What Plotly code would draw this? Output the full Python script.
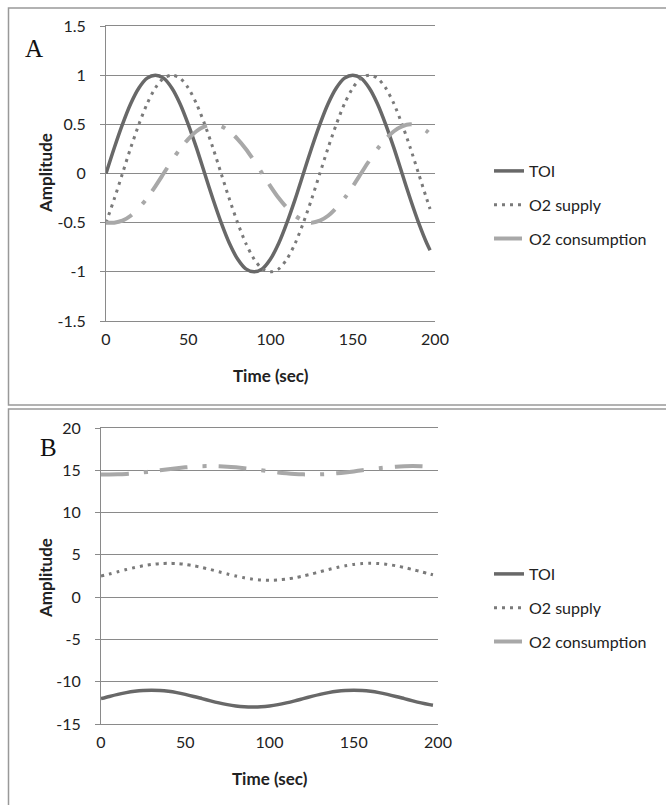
import plotly.graph_objects as go

# ---------------- data ----------------
time_s = [0, 5, 10, 15, 20, 25, 30, 35, 40, 45, 50, 55, 60, 65, 70, 75, 80, 85, 90, 95,
          100, 105, 110, 115, 120, 125, 130, 135, 140, 145, 150, 155, 160, 165, 170, 175,
          180, 185, 190, 195, 197]

toi_a = [0, 0.26, 0.5, 0.71, 0.87, 0.97, 1, 0.97, 0.87, 0.71, 0.5, 0.26, 0, -0.26, -0.5,
         -0.71, -0.87, -0.97, -1, -0.97, -0.87, -0.71, -0.5, -0.26, 0, 0.26, 0.5, 0.71,
         0.87, 0.97, 1, 0.97, 0.87, 0.71, 0.5, 0.26, 0, -0.26, -0.5, -0.71, -0.78]

supply_a = [-0.5, -0.26, 0, 0.26, 0.5, 0.71, 0.87, 0.97, 1, 0.97, 0.87, 0.71, 0.5, 0.26, 0,
            -0.26, -0.5, -0.71, -0.87, -0.97, -1, -0.97, -0.87, -0.71, -0.5, -0.26, 0, 0.26,
            0.5, 0.71, 0.87, 0.97, 1, 0.97, 0.87, 0.71, 0.5, 0.26, 0, -0.26, -0.36]

consumption_a = [-0.5, -0.5, -0.48, -0.43, -0.35, -0.25, -0.13, 0, 0.13, 0.25, 0.35, 0.43,
                 0.48, 0.5, 0.48, 0.43, 0.35, 0.25, 0.13, 0, -0.13, -0.25, -0.35, -0.43,
                 -0.48, -0.5, -0.48, -0.43, -0.35, -0.25, -0.13, 0, 0.13, 0.25, 0.35, 0.43,
                 0.48, 0.5, 0.48, 0.43, 0.4]

toi_b = [-12, -11.74, -11.5, -11.29, -11.13, -11.03, -11, -11.03, -11.13, -11.29, -11.5,
         -11.74, -12, -12.26, -12.5, -12.71, -12.87, -12.97, -13, -12.97, -12.87, -12.71,
         -12.5, -12.26, -12, -11.74, -11.5, -11.29, -11.13, -11.03, -11, -11.03, -11.13,
         -11.29, -11.5, -11.74, -12, -12.26, -12.5, -12.71, -12.78]

supply_b = [2.5, 2.74, 3, 3.26, 3.5, 3.71, 3.87, 3.97, 4, 3.97, 3.87, 3.71, 3.5, 3.26, 3,
            2.74, 2.5, 2.29, 2.13, 2.03, 2, 2.03, 2.13, 2.29, 2.5, 2.74, 3, 3.26, 3.5, 3.71,
            3.87, 3.97, 4, 3.97, 3.87, 3.71, 3.5, 3.26, 3, 2.74, 2.64]

consumption_b = [14.5, 14.5, 14.52, 14.57, 14.65, 14.75, 14.87, 15, 15.13, 15.25, 15.35,
                 15.43, 15.48, 15.5, 15.48, 15.43, 15.35, 15.25, 15.13, 15, 14.87, 14.75,
                 14.65, 14.57, 14.52, 14.5, 14.52, 14.57, 14.65, 14.75, 14.87, 15, 15.13,
                 15.25, 15.35, 15.43, 15.48, 15.5, 15.48, 15.43, 15.4]

series_names = ["TOI", "O2 supply", "O2 consumption"]
x_ticks = [0, 50, 100, 150, 200]
y_ticks_a = [-1.5, -1, -0.5, 0, 0.5, 1, 1.5]
y_ticktext_a = ["-1.5", "-1", "-0.5", "0", "0.5", "1", "1.5"]
y_ticks_b = [-15, -10, -5, 0, 5, 10, 15, 20]
y_ticktext_b = ["-15", "-10", "-5", "0", "5", "10", "15", "20"]
x_title = "Time (sec)"
y_title = "Amplitude"
panel_labels = ["A", "B"]

# ---------------- styling ----------------
W, H = 666, 805
GRID = "#8a8a8a"
TXT = "#222222"
FONT = "Lato"
C_TOI = "#686868"
C_SUP = "#7a7a7a"
C_CON = "#a8a8a8"


def fx(px):
    return px / W


def fy(py):
    return 1 - py / H


styles = [
    dict(color=C_TOI, width=3.5),
    dict(color=C_SUP, width=3, dash="3px,5px"),
    dict(color=C_CON, width=4, dash="28px,15px,4px,12px"),
]

fig = go.Figure()

panel_series = [
    ("x", "y", "legend", [toi_a, supply_a, consumption_a]),
    ("x2", "y2", "legend2", [toi_b, supply_b, consumption_b]),
]
for xa, ya, lg, ser in panel_series:
    for i, (name, vals) in enumerate(zip(series_names, ser)):
        fig.add_trace(go.Scatter(
            x=time_s, y=vals, name=name, mode="lines",
            line=dict(shape="spline", smoothing=0.8, **styles[i]),
            xaxis=xa, yaxis=ya, legend=lg, legendgroup=lg + str(i),
            showlegend=True,
        ))

# panel pixel geometry
A = dict(l=106, r=435, t=26, b=321)
B = dict(l=101, r=438, t=428, b=724)


def xaxis_cfg(g, anchor):
    return dict(domain=[fx(g["l"]), fx(g["r"])], range=[0, 200], anchor=anchor,
                tickvals=x_ticks, ticks="", showgrid=False, zeroline=False,
                showline=True, mirror=True, linecolor=GRID, linewidth=1,
                tickfont=dict(family=FONT, size=16, color=TXT),
                ticklabelstandoff=4, fixedrange=True, automargin=False)


def yaxis_cfg(g, anchor, rng, tv, tt):
    return dict(domain=[fy(g["b"]), fy(g["t"])], range=rng, anchor=anchor,
                tickvals=tv, ticktext=tt, showgrid=True, gridcolor=GRID, gridwidth=1,
                zeroline=False, showline=True, linecolor=GRID, linewidth=1,
                ticks="outside", ticklen=5, tickcolor=GRID,
                tickfont=dict(family=FONT, size=16, color=TXT),
                ticklabelstandoff=11, fixedrange=True, automargin=False)


def zero_pos(g, rng):
    d0, d1 = fy(g["b"]), fy(g["t"])
    return d0 + (0 - rng[0]) / (rng[1] - rng[0]) * (d1 - d0)


rng_a = [-1.5, 1.5]
rng_b = [-15, 20]

fig.update_layout(
    template="none",
    width=W, height=H,
    margin=dict(l=0, r=0, t=0, b=0, autoexpand=False),
    paper_bgcolor="white", plot_bgcolor="white",
    xaxis=xaxis_cfg(A, "y"),
    yaxis=yaxis_cfg(A, "x", rng_a, y_ticks_a, y_ticktext_a),
    xaxis2=xaxis_cfg(B, "y2"),
    yaxis2=yaxis_cfg(B, "x2", rng_b, y_ticks_b, y_ticktext_b),
    xaxis3=dict(overlaying="x", anchor="free", position=zero_pos(A, rng_a),
                range=[0, 200], tickvals=x_ticks, ticks="outside", ticklen=5,
                tickcolor=GRID, showticklabels=False, showgrid=False,
                zeroline=False, showline=False, fixedrange=True, automargin=False),
    xaxis4=dict(overlaying="x2", anchor="free", position=zero_pos(B, rng_b),
                range=[0, 200], tickvals=x_ticks, ticks="outside", ticklen=5,
                tickcolor=GRID, showticklabels=False, showgrid=False,
                zeroline=False, showline=False, fixedrange=True, automargin=False),
    legend=dict(x=fx(489), y=fy(154), xanchor="left", yanchor="top",
                font=dict(family=FONT, size=16, color=TXT),
                bgcolor="rgba(0,0,0,0)", tracegroupgap=10, itemwidth=30),
    legend2=dict(x=fx(489), y=fy(557), xanchor="left", yanchor="top",
                 font=dict(family=FONT, size=16, color=TXT),
                 bgcolor="rgba(0,0,0,0)", tracegroupgap=10, itemwidth=30),
    showlegend=True,
    hovermode=False,
)

# panel frames
fig.add_shape(type="rect", xref="paper", yref="paper",
              x0=fx(8.5), x1=1.2, y0=fy(405), y1=fy(8),
              line=dict(color="#999999", width=1.5), layer="below")
fig.add_shape(type="rect", xref="paper", yref="paper",
              x0=fx(8.5), x1=1.2, y0=-0.2, y1=fy(409),
              line=dict(color="#999999", width=1.5), layer="below")

# axis titles and panel letters
ann = []
for g, tcy, acy, lab, lx, ly in [(A, 375, 173, panel_labels[0], 34, 49),
                                 (B, 778, 578, panel_labels[1], 48, 447)]:
    ann.append(dict(text=f"<b>{x_title}</b>", x=fx((g["l"] + g["r"]) / 2), y=fy(tcy),
                    xref="paper", yref="paper", showarrow=False,
                    font=dict(family=FONT, size=17, color=TXT),
                    xanchor="center", yanchor="middle"))
    ann.append(dict(text=f"<b>{y_title}</b>", x=fx(45), y=fy(acy), textangle=-90,
                    xref="paper", yref="paper", showarrow=False,
                    font=dict(family=FONT, size=17, color=TXT),
                    xanchor="center", yanchor="middle"))
    ann.append(dict(text=lab, x=fx(lx), y=fy(ly), xref="paper", yref="paper",
                    showarrow=False,
                    font=dict(family="Liberation Serif", size=25, color="#111111"),
                    xanchor="center", yanchor="middle"))
fig.update_layout(annotations=ann)

# remove the default page margin so the figure sits exactly in the window
fig.write_html(
    "out.html",
    config={"displayModeBar": False, "staticPlot": True},
    post_script="document.body.style.margin='0';document.body.style.overflow='hidden';",
)
